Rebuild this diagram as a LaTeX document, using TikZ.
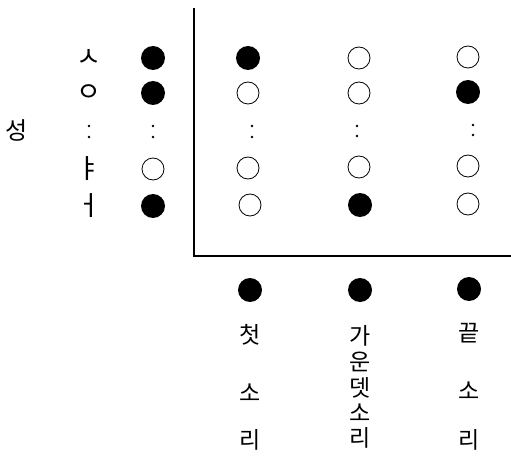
\documentclass[tikz,border=0pt]{standalone}
\usepackage{fontspec}
\newfontfamily\kr{Noto Sans CJK KR}
\begin{document}
\begin{tikzpicture}[x=1pt,y=-1pt,
  full/.style={circle,fill=black,minimum size=24pt,inner sep=0pt},
  empty/.style={circle,draw=black,line width=0.8pt,minimum size=22pt,inner sep=0pt},
  dotmark/.style={circle,fill=black,minimum size=2.6pt,inner sep=0pt},
  lab/.style={font=\kr\fontsize{27}{27}\selectfont,inner sep=0pt},
  klab/.style={font=\kr\fontsize{23}{23}\selectfont,inner sep=0pt}]
\useasboundingbox (0,0) rectangle (511,457);
% axes
\coordinate (top) at (194,8);
\coordinate (corner) at (194,256);
\coordinate (right) at (511,256);
\draw[line width=1.4pt] (top) -- (corner) -- (right);
% row labels
\node[klab,font=\kr\fontsize{24}{24}\selectfont] (seong) at (17,130) {성};
\node[lab] (l1) at (89,58) {ㅅ};
\node[lab] (l2) at (89,93) {ㅇ};
\node[dotmark] (l3a) at (89,126) {};
\node[dotmark] (l3b) at (89,137) {};
\node[lab] (l4) at (89,169) {ㅑ};
\node[lab] (l5) at (89,206) {ㅓ};
% column 0
\node[full] (c0r1) at (153,58) {};
\node[full] (c0r2) at (153,93) {};
\node[dotmark] (c0da) at (153,126) {};
\node[dotmark] (c0db) at (153,137) {};
\node[empty] (c0r4) at (153,169) {};
\node[full] (c0r5) at (153,206) {};
% column 1
\node[full] (c1r1) at (248,58) {};
\node[empty] (c1r2) at (248,93) {};
\node[dotmark] (c1da) at (252,126) {};
\node[dotmark] (c1db) at (252,137) {};
\node[empty] (c1r4) at (248,168) {};
\node[empty] (c1r5) at (250,205) {};
% column 2
\node[empty] (c2r1) at (359,58) {};
\node[empty] (c2r2) at (359,93) {};
\node[dotmark] (c2da) at (357,126) {};
\node[dotmark] (c2db) at (357,136) {};
\node[empty] (c2r4) at (359,167) {};
\node[full] (c2r5) at (360,205) {};
% column 3
\node[empty] (c3r1) at (468,57) {};
\node[full] (c3r2) at (468,92) {};
\node[dotmark] (c3da) at (473,125) {};
\node[dotmark] (c3db) at (473,135) {};
\node[empty] (c3r4) at (468,166) {};
\node[empty] (c3r5) at (468,204) {};
% bottom row
\node[full] (b1) at (250,290) {};
\node[full] (b2) at (360,290) {};
\node[full] (b3) at (469,289) {};
% bottom labels
\node[klab] (t1a) at (250,335) {첫};
\node[klab] (t1b) at (250,393) {소};
\node[klab] (t1c) at (250,440) {리};
\node[klab] (t2a) at (360,336) {가};
\node[klab] (t2b) at (360,362) {운};
\node[klab] (t2c) at (360,388) {뎃};
\node[klab] (t2d) at (360,413) {소};
\node[klab] (t2e) at (360,438) {리};
\node[klab] (t3a) at (469,333) {끝};
\node[klab] (t3b) at (469,391) {소};
\node[klab] (t3c) at (469,440) {리};
\end{tikzpicture}
\end{document}
